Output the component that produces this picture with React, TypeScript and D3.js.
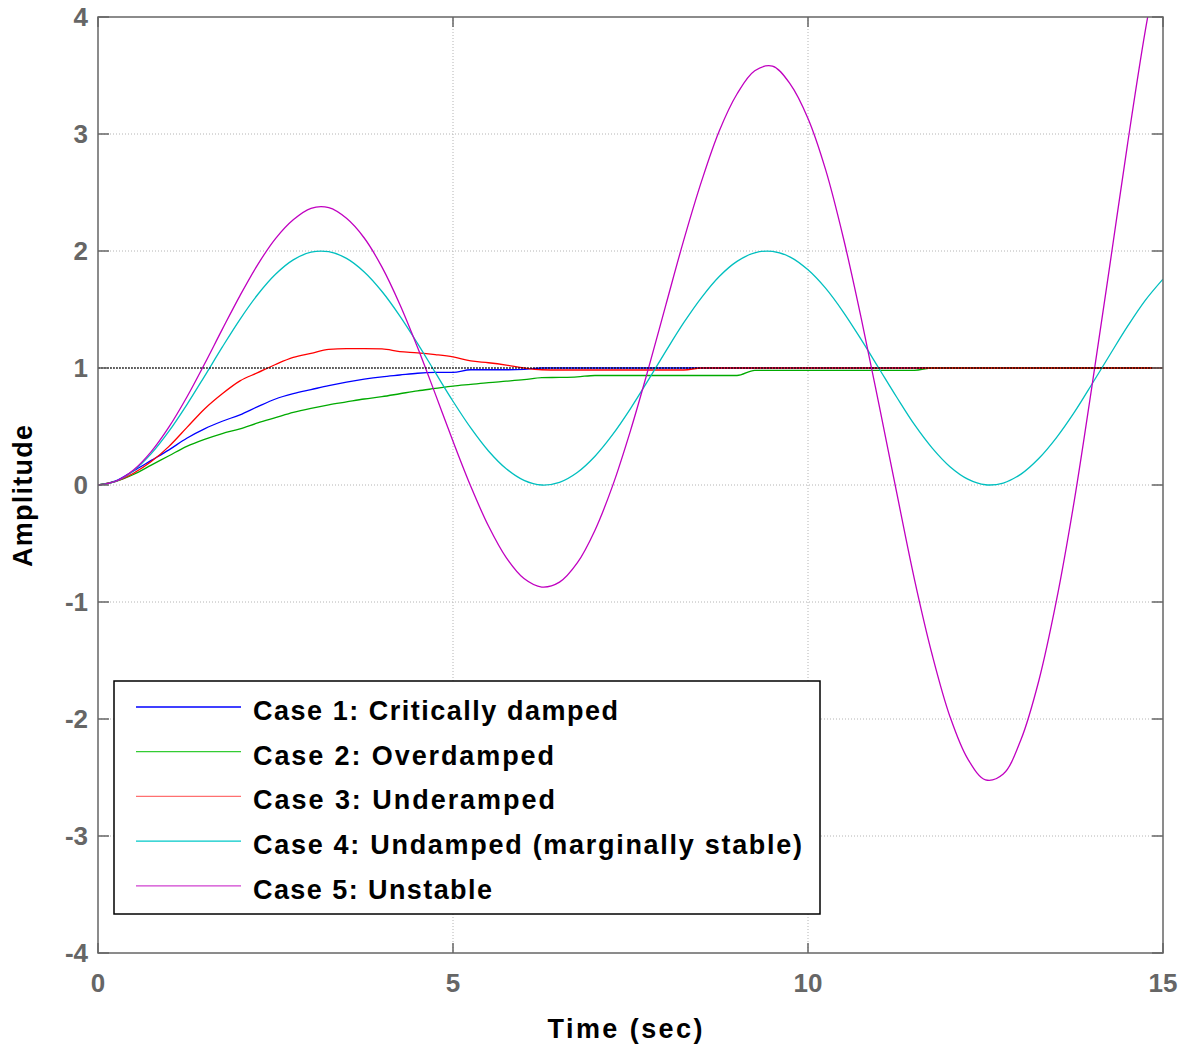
import React, { useEffect, useRef } from 'react';
import * as d3 from 'd3';

// sample times (sec)
const time = [
  0, 0.25, 0.5, 0.75, 1, 1.25, 1.5, 1.75, 2, 2.25, 2.5, 2.75, 3, 3.25, 3.5, 3.75,
  4, 4.25, 4.5, 4.75, 5, 5.25, 5.5, 5.75, 6, 6.25, 6.5, 6.75, 7, 7.25, 7.5, 7.75,
  8, 8.25, 8.5, 8.75, 9, 9.25, 9.5, 9.75, 10, 10.25, 10.5, 10.75, 11, 11.25, 11.5, 11.75,
  12, 12.25, 12.5, 12.75, 13, 13.25, 13.5, 13.75, 14, 14.25, 14.5, 14.75, 15,
];

// Case 1: critically damped
const case1 = [
  0, 0.035, 0.12, 0.21, 0.3, 0.4, 0.48, 0.545, 0.6, 0.67, 0.735, 0.78, 0.815, 0.85, 0.88, 0.905,
  0.925, 0.94, 0.955, 0.962, 0.963, 0.985, 0.985, 0.985, 0.988, 1, 1, 1, 1, 1, 1, 1,
  1, 1, 1, 1, 1, 1, 1, 1, 1, 1, 1, 1, 1, 1, 1, 1,
  1, 1, 1, 1, 1, 1, 1, 1, 1, 1, 1, 1, 1,
];

// Case 2: overdamped
const case2 = [
  0, 0.03, 0.09, 0.17, 0.25, 0.33, 0.39, 0.44, 0.48, 0.53, 0.575, 0.62, 0.655, 0.685, 0.71, 0.735,
  0.755, 0.78, 0.805, 0.825, 0.845, 0.86, 0.875, 0.887, 0.9, 0.917, 0.92, 0.925, 0.936, 0.936, 0.936, 0.936,
  0.936, 0.936, 0.936, 0.936, 0.936, 0.98, 0.98, 0.98, 0.98, 0.98, 0.98, 0.98, 0.98, 0.98, 0.98, 1,
  1, 1, 1, 1, 1, 1, 1, 1, 1, 1, 1, 1, 1,
];

// Case 3: underdamped
const case3 = [
  0, 0.03, 0.1, 0.2, 0.33, 0.49, 0.65, 0.78, 0.89, 0.96, 1.03, 1.09, 1.125, 1.16, 1.165, 1.165,
  1.163, 1.14, 1.13, 1.115, 1.095, 1.06, 1.045, 1.025, 1, 0.985, 0.983, 0.983, 0.983, 0.983, 0.983, 0.983,
  0.983, 0.983, 1, 1, 1, 1, 1, 1, 1, 1, 1, 1, 1, 1, 1, 1,
  1, 1, 1, 1, 1, 1, 1, 1, 1, 1, 1, 1, 1,
];

// Case 4: undamped
const case4 = [
  0, 0.031, 0.122, 0.268, 0.46, 0.685, 0.929, 1.178, 1.416, 1.628, 1.801, 1.924, 1.99, 1.994, 1.937, 1.821,
  1.654, 1.446, 1.211, 0.962, 0.716, 0.488, 0.291, 0.139, 0.04, 0, 0.023, 0.107, 0.246, 0.432, 0.653, 0.896,
  1.146, 1.387, 1.602, 1.782, 1.911, 1.985, 1.997, 1.948, 1.839, 1.68, 1.476, 1.242, 0.996, 0.75, 0.515, 0.315,
  0.156, 0.05, 0.002, 0.017, 0.093, 0.226, 0.405, 0.62, 0.863, 1.111, 1.355, 1.578, 1.76,
];

// Case 5: unstable
const case5 = [
  0, 0.032, 0.128, 0.285, 0.496, 0.75, 1.034, 1.33, 1.619, 1.884, 2.106, 2.267, 2.365, 2.37, 2.279, 2.111,
  1.862, 1.545, 1.177, 0.779, 0.374, -0.011, -0.351, -0.621, -0.8, -0.872, -0.83, -0.666, -0.386, -0.003, 0.465, 0.99,
  1.544, 2.093, 2.595, 3.026, 3.342, 3.54, 3.58, 3.427, 3.133, 2.691, 2.107, 1.424, 0.686, -0.068, -0.808, -1.453,
  -1.98, -2.341, -2.52, -2.47, -2.175, -1.675, -0.985, -0.136, 0.848, 1.873, 2.912, 3.881, 4.696,
];

const seriesNames = [
  'Case 1: Critically damped',
  'Case 2: Overdamped',
  'Case 3: Underamped',
  'Case 4: Undamped (marginally stable)',
  'Case 5: Unstable',
];
const seriesValues = [case1, case2, case3, case4, case5];
const seriesColors = ['#0000ff', '#00aa00', '#ff0000', '#00bfbf', '#c000c0'];
const legendColors = ['#0000ff', '#33cc33', '#ff7070', '#00c8c8', '#d040d0'];
const legendWidths = [365, 301, 302, 549, 239];

const xTicks = [0, 5, 10, 15];
const yTicks = [-4, -3, -2, -1, 0, 1, 2, 3, 4];
const finalValue = 1;

export default function App() {
  const svgRef = useRef<SVGSVGElement>(null);

  useEffect(() => {
    if (!svgRef.current) return;
    const svg = d3.select(svgRef.current);
    svg.selectAll('*').remove();

    const left = 98, right = 1163, top = 17, bottom = 953;
    const x = d3.scaleLinear().domain([0, 15]).range([left, right]);
    const y = d3.scaleLinear().domain([-4, 4]).range([bottom, top]);
    const font = '"Liberation Sans", Arial, sans-serif';
    const axisGray = '#666666';

    svg.append('rect').attr('width', 1186).attr('height', 1049).attr('fill', '#fff');

    // grid
    const grid = svg.append('g').attr('stroke', '#b4b4b4').attr('stroke-dasharray', '1,2').attr('stroke-width', 1);
    grid.selectAll('line.h')
      .data(yTicks.slice(1, -1))
      .enter()
      .append('line')
      .attr('x1', left).attr('x2', right)
      .attr('y1', d => y(d)).attr('y2', d => y(d));
    grid.selectAll('line.v')
      .data(xTicks.slice(1, -1))
      .enter()
      .append('line')
      .attr('y1', top).attr('y2', bottom)
      .attr('x1', d => x(d)).attr('x2', d => x(d));

    // curves
    svg.append('defs').append('clipPath').attr('id', 'plotClip')
      .append('rect').attr('x', left).attr('y', top).attr('width', right - left).attr('height', bottom - top);

    const stepLine = d3.line<number>()
      .x((_, i) => x(time[i]))
      .y(d => y(d))
      .curve(d3.curveMonotoneX);
    const smoothLine = d3.line<number>()
      .x((_, i) => x(time[i]))
      .y(d => y(d))
      .curve(d3.curveCatmullRom.alpha(0.5));

    const curves = svg.append('g').attr('clip-path', 'url(#plotClip)');
    seriesValues.forEach((vals, i) => {
      curves.append('path')
        .attr('d', i < 3 ? stepLine(vals) : smoothLine(vals))
        .attr('fill', 'none')
        .attr('stroke', seriesColors[i])
        .attr('stroke-width', 1.3);
    });

    // steady-state reference line
    curves.append('line')
      .attr('x1', x(0)).attr('x2', x(15))
      .attr('y1', y(finalValue)).attr('y2', y(finalValue))
      .attr('stroke', '#000')
      .attr('stroke-width', 1.4)
      .attr('stroke-dasharray', '2,1')
      .attr('opacity', 0.75);

    // axes box + ticks
    svg.append('rect')
      .attr('x', left).attr('y', top)
      .attr('width', right - left).attr('height', bottom - top)
      .attr('fill', 'none')
      .attr('stroke', axisGray)
      .attr('stroke-width', 1.5);

    const ticks = svg.append('g').attr('stroke', axisGray).attr('stroke-width', 1.5);
    yTicks.forEach(t => {
      ticks.append('line').attr('x1', left).attr('x2', left + 11).attr('y1', y(t)).attr('y2', y(t));
      ticks.append('line').attr('x1', right - 11).attr('x2', right).attr('y1', y(t)).attr('y2', y(t));
    });
    xTicks.forEach(t => {
      ticks.append('line').attr('x1', x(t)).attr('x2', x(t)).attr('y1', bottom).attr('y2', bottom - 10);
      ticks.append('line').attr('x1', x(t)).attr('x2', x(t)).attr('y1', top).attr('y2', top + 10);
    });

    svg.append('g')
      .selectAll('text')
      .data(yTicks)
      .enter()
      .append('text')
      .attr('x', 88)
      .attr('y', d => y(d) + 9)
      .attr('text-anchor', 'end')
      .attr('font-family', font)
      .attr('font-size', '26px')
      .attr('font-weight', 'bold')
      .attr('fill', axisGray)
      .text(d => d);

    svg.append('g')
      .selectAll('text')
      .data(xTicks)
      .enter()
      .append('text')
      .attr('x', d => x(d))
      .attr('y', 992)
      .attr('text-anchor', 'middle')
      .attr('font-family', font)
      .attr('font-size', '26px')
      .attr('font-weight', 'bold')
      .attr('fill', axisGray)
      .text(d => d);

    // axis titles
    svg.append('text')
      .attr('x', 625)
      .attr('y', 1038)
      .attr('text-anchor', 'middle')
      .attr('font-family', font)
      .attr('font-size', '27px')
      .attr('font-weight', 'bold')
      .attr('textLength', 155)
      .attr('lengthAdjust', 'spacing')
      .text('Time (sec)');

    svg.append('text')
      .attr('transform', 'translate(32,496) rotate(-90)')
      .attr('text-anchor', 'middle')
      .attr('font-family', font)
      .attr('font-size', '27px')
      .attr('font-weight', 'bold')
      .attr('textLength', 142)
      .attr('lengthAdjust', 'spacing')
      .text('Amplitude');

    // legend
    const lg = svg.append('g');
    lg.append('rect')
      .attr('x', 114).attr('y', 681)
      .attr('width', 706).attr('height', 233)
      .attr('fill', '#fff')
      .attr('stroke', '#000')
      .attr('stroke-width', 1.5);

    seriesNames.forEach((name, i) => {
      const ly = 707 + i * 44.7;
      lg.append('line')
        .attr('x1', 136).attr('x2', 241)
        .attr('y1', ly).attr('y2', ly)
        .attr('stroke', legendColors[i])
        .attr('stroke-width', 1.3);
      lg.append('text')
        .attr('x', 253)
        .attr('y', ly + 13)
        .attr('font-family', font)
        .attr('font-size', '27px')
        .attr('font-weight', 'bold')
        .attr('textLength', legendWidths[i])
        .attr('lengthAdjust', 'spacing')
        .attr('fill', '#000')
        .text(name);
    });
  }, []);

  return (
    <div style={{ position: 'absolute', left: 0, top: 0 }}>
      <svg ref={svgRef} width={1186} height={1049} style={{ display: 'block' }}></svg>
    </div>
  );
}
